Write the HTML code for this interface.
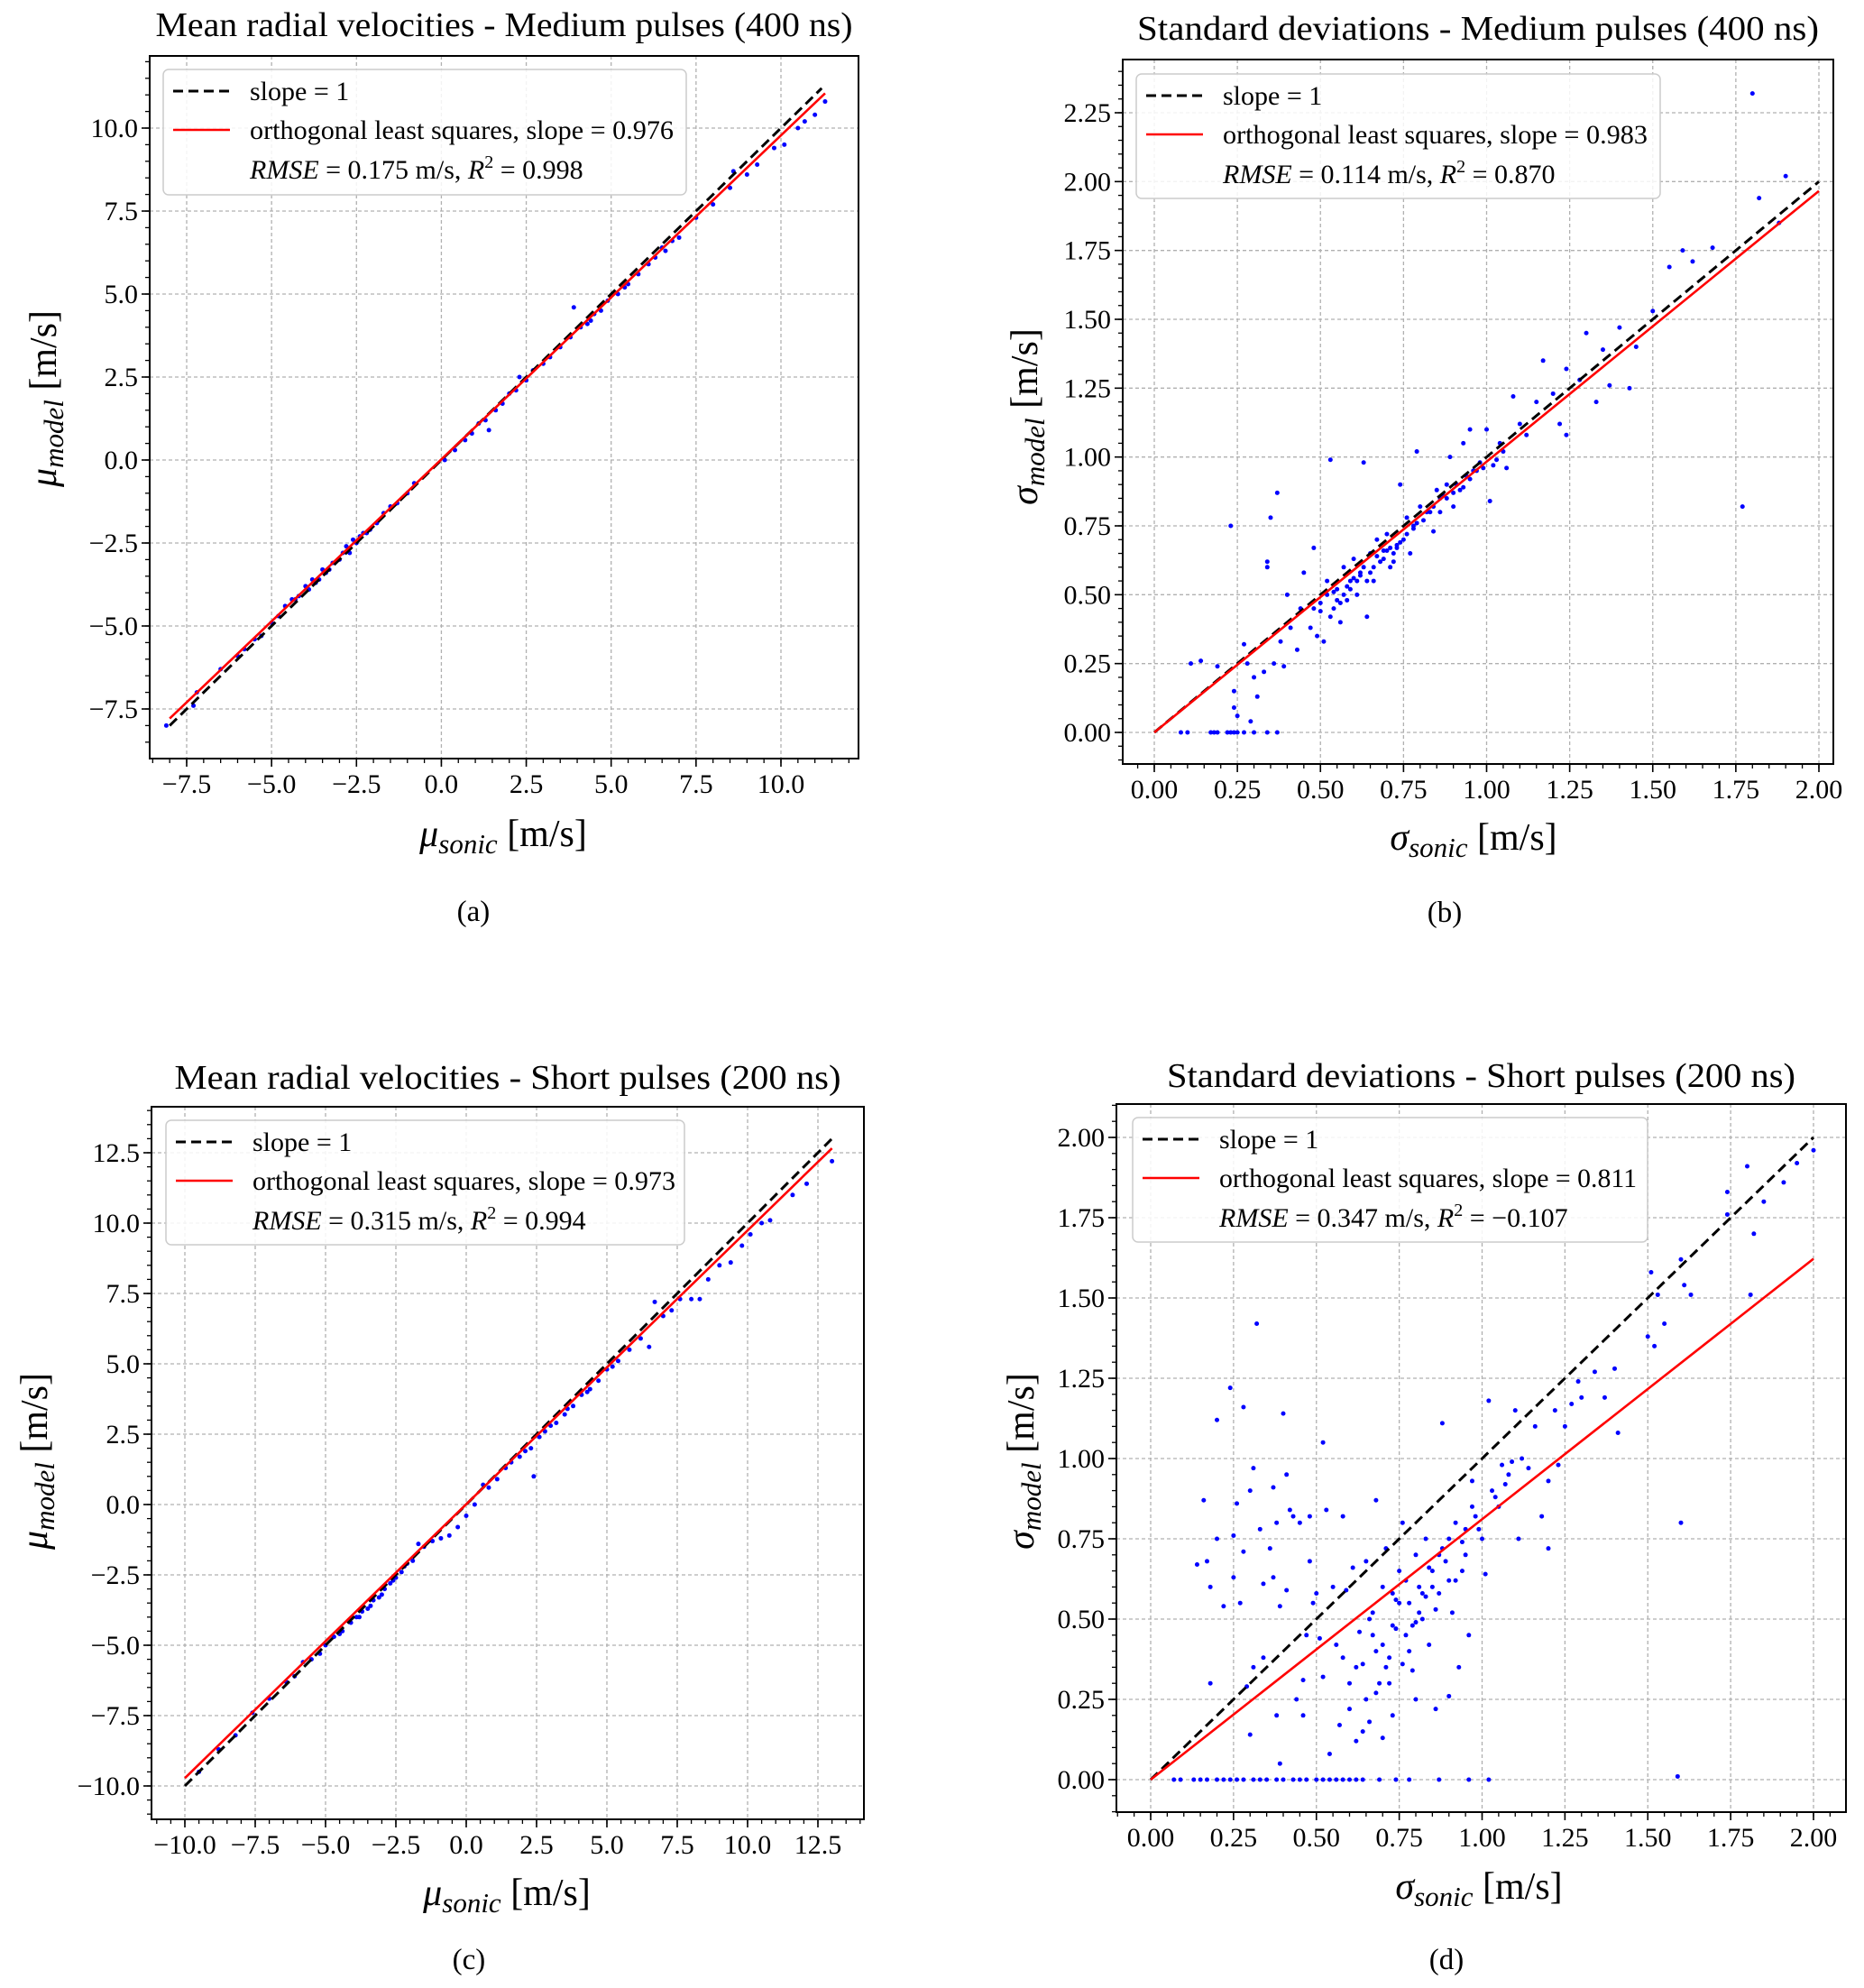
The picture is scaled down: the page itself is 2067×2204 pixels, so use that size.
<!DOCTYPE html>
<html><head><meta charset="utf-8"><style>
html,body{margin:0;padding:0;background:#fff}
svg{display:block}
text{font-family:"Liberation Serif","DejaVu Serif",serif}
</style></head><body>
<svg id="fig" width="2067" height="2204" viewBox="0 0 2067 2204" xmlns="http://www.w3.org/2000/svg" font-family="Liberation Serif, serif"></svg>
<script>
// ---- Data: panel (a) mean radial velocities, medium pulses ----
const aX=[-8.1,-7.3,-7.2,-6.5,-6.0,-5.8,-5.5,-5.3,-5.0,-4.8,-4.6,-4.4,-4.2,-4.0,-3.9,-3.8,-3.6,-3.5,-3.4,-3.2,-3.0,-2.9,-2.8,-2.7,-2.6,-2.5,-2.3,-2.1,-1.9,-1.7,-1.5,-1.3,-1.0,-0.8,0.1,0.4,0.7,0.9,1.1,1.3,1.4,1.6,1.8,2.0,2.2,2.3,2.5,2.7,3.0,3.2,3.5,3.8,3.9,4.1,4.4,4.7,4.9,5.2,5.5,5.8,6.1,6.5,6.8,7.0,7.5,8.0,8.5,8.6,9.0,9.3,9.8,10.1,10.5,10.7,11.0,11.3,-4.3,-3.7,-3.3,-2.4,-2.2,4.3,4.5,5.4,6.3,6.6];
const aY=[-8.0,-7.4,-7.0,-6.3,-5.9,-5.7,-5.4,-5.3,-4.9,-4.7,-4.4,-4.2,-4.1,-3.8,-3.9,-3.6,-3.6,-3.3,-3.4,-3.1,-3.0,-2.8,-2.6,-2.8,-2.4,-2.5,-2.2,-2.1,-1.9,-1.6,-1.4,-1.3,-1.0,-0.7,0.0,0.3,0.6,0.8,1.1,1.2,0.9,1.5,1.7,2.0,2.1,2.5,2.4,2.7,2.9,3.1,3.4,3.7,4.6,4.0,4.2,4.5,4.8,5.0,5.3,5.6,5.9,6.4,6.6,6.7,7.3,7.7,8.2,8.7,8.6,8.9,9.4,9.5,10.0,10.2,10.4,10.8,-4.2,-3.7,-3.3,-2.3,-2.2,4.1,4.4,5.2,6.1,6.3];
const aFit=[-8.0,11.3], aSlope=0.976, aIcpt=0.02, aDiag=[-8.0,11.2];
// ---- panel (b) standard deviations, medium pulses ----
const bX=[0.08,0.10,0.17,0.18,0.19,0.22,0.23,0.24,0.25,0.27,0.30,0.34,0.37,0.11,0.14,0.19,0.23,0.24,0.24,0.25,0.27,0.28,0.29,0.30,0.31,0.33,0.34,0.34,0.35,0.36,0.37,0.38,0.39,0.40,0.41,0.43,0.44,0.45,0.47,0.48,0.49,0.50,0.51,0.52,0.53,0.54,0.55,0.56,0.57,0.58,0.59,0.60,0.61,0.62,0.63,0.64,0.65,0.66,0.67,0.68,0.69,0.70,0.71,0.72,0.73,0.74,0.75,0.76,0.77,0.78,0.79,0.80,0.82,0.84,0.85,0.86,0.88,0.89,0.90,0.92,0.93,0.94,0.95,0.96,0.98,1.00,1.01,1.02,1.04,1.06,1.08,1.10,1.12,1.15,1.17,1.20,1.22,1.24,1.24,1.28,1.30,1.33,1.35,1.37,1.40,1.43,1.45,1.50,1.55,1.59,1.62,1.68,1.77,1.80,1.82,1.88,1.90,0.52,0.55,0.58,0.62,0.66,0.70,0.74,0.78,0.83,0.87,0.91,0.97,0.48,0.53,0.57,0.61,0.65,0.69,0.73,0.81,0.86,0.93,0.50,0.54,0.56,0.59,0.60,0.63,0.64,0.67,0.71,0.72,0.76,0.79,0.84,0.88,0.90,0.95,0.99,1.03,1.05];
const bY=[0,0,0,0,0,0,0,0,0,0,0,0,0,0.25,0.26,0.24,0.75,0.15,0.09,0.06,0.32,0.25,0.04,0.2,0.13,0.22,0.6,0.62,0.78,0.25,0.87,0.33,0.24,0.5,0.38,0.3,0.45,0.58,0.38,0.67,0.35,0.47,0.33,0.55,0.99,0.45,0.52,0.4,0.6,0.48,0.55,0.63,0.5,0.58,0.98,0.42,0.65,0.55,0.7,0.62,0.66,0.72,0.6,0.65,0.68,0.9,0.7,0.78,0.65,0.75,1.02,0.82,0.8,0.73,0.88,0.85,0.9,1.0,0.82,0.88,1.05,0.93,1.1,0.95,0.98,1.1,0.84,0.97,1.05,0.96,1.22,1.12,1.08,1.2,1.35,1.23,1.12,1.32,1.08,1.28,1.45,1.2,1.39,1.26,1.47,1.25,1.4,1.53,1.69,1.75,1.71,1.76,0.82,2.32,1.94,1.85,2.02,0.5,0.48,0.53,0.57,0.6,0.66,0.69,0.74,0.8,0.86,0.9,0.95,0.45,0.42,0.5,0.55,0.58,0.63,0.67,0.77,0.8,0.89,0.44,0.51,0.47,0.52,0.56,0.6,0.55,0.64,0.67,0.62,0.72,0.76,0.82,0.85,0.87,0.92,0.96,0.99,1.02];
const bFit=[0,2.0], bSlope=0.983, bIcpt=0.0, bDiag=[0,2.0];
// ---- panel (c) mean radial velocities, short pulses ----
const cX=[-9.5,-8.8,-8.2,-7.6,-7.0,-6.4,-6.1,-5.8,-5.5,-5.2,-5.0,-4.7,-4.4,-4.1,-3.9,-3.7,-3.5,-3.3,-3.1,-2.9,-2.7,-2.5,-2.3,-2.1,-1.9,-1.7,-1.5,-1.2,-0.9,-0.6,-0.3,0.0,0.3,0.6,0.8,1.1,1.4,1.6,1.9,2.1,2.3,2.4,2.6,2.8,3.2,3.5,3.8,4.1,4.4,4.7,5.0,5.4,5.8,6.2,6.5,6.7,7.0,7.3,7.6,8.0,8.3,8.6,9.0,9.4,9.8,10.1,10.5,10.8,11.6,12.1,13.0,-4.5,-3.8,-3.4,-3.0,-2.6,-2.2,3.0,3.6,4.3,5.2];
const cY=[-9.5,-8.7,-8.2,-7.4,-6.9,-6.3,-6.1,-5.6,-5.5,-5.3,-5.0,-4.7,-4.5,-4.2,-4.0,-3.8,-3.7,-3.4,-3.3,-3.0,-2.8,-2.6,-2.4,-2.1,-2.0,-1.4,-1.5,-1.3,-1.2,-1.1,-0.8,-0.4,0.0,0.7,0.6,0.9,1.3,1.5,1.7,1.9,2.0,1.0,2.4,2.6,2.9,3.2,3.5,3.9,4.1,4.4,4.8,5.1,5.5,5.9,5.6,7.2,6.7,6.9,7.3,7.3,7.3,8.0,8.5,8.6,9.2,9.6,10.0,10.1,11.0,11.4,12.2,-4.6,-4.0,-3.6,-3.2,-2.7,-2.2,2.8,3.4,4.0,4.9];
const cFit=[-10.0,13.0], cSlope=0.973, cIcpt=0.01, cDiag=[-10.0,13.0];
// ---- panel (d) standard deviations, short pulses ----
const dX=[0.07,0.09,0.13,0.15,0.17,0.2,0.22,0.24,0.26,0.28,0.31,0.33,0.35,0.38,0.4,0.43,0.45,0.47,0.5,0.52,0.54,0.56,0.58,0.6,0.62,0.64,0.69,0.74,0.78,0.87,0.96,1.02,0.14,0.16,0.17,0.18,0.18,0.2,0.2,0.22,0.24,0.25,0.25,0.26,0.27,0.28,0.28,0.29,0.3,0.3,0.31,0.31,0.32,0.33,0.34,0.34,0.36,0.37,0.37,0.38,0.38,0.39,0.39,0.4,0.41,0.41,0.42,0.43,0.44,0.45,0.46,0.46,0.47,0.48,0.48,0.49,0.5,0.51,0.52,0.52,0.53,0.54,0.55,0.56,0.57,0.58,0.58,0.59,0.6,0.61,0.62,0.63,0.64,0.65,0.65,0.66,0.67,0.68,0.68,0.69,0.7,0.7,0.71,0.72,0.73,0.73,0.74,0.75,0.76,0.77,0.78,0.79,0.8,0.8,0.81,0.82,0.83,0.84,0.85,0.86,0.87,0.88,0.89,0.9,0.9,0.91,0.92,0.93,0.94,0.95,0.96,0.97,0.98,1.0,1.01,1.02,1.03,1.05,1.06,1.08,1.1,1.11,1.12,1.14,1.16,1.18,1.2,1.2,1.22,1.23,1.25,1.27,1.29,1.3,1.34,1.37,1.4,1.41,1.5,1.51,1.52,1.53,1.55,1.59,1.6,1.6,1.61,1.63,1.74,1.74,1.8,1.81,1.82,1.85,1.91,1.95,2.0,0.62,0.66,0.7,0.72,0.75,0.77,0.79,0.82,0.84,0.86,0.88,0.92,0.95,0.99,0.68,0.71,0.74,0.78,0.81,0.85,0.6,0.64,0.67,0.73,0.76,0.8,0.83,0.87,0.9,0.94,0.97,1.04,1.07,1.09];
const dY=[0,0,0,0,0,0,0,0,0,0,0,0,0,0,0,0,0,0,0,0,0,0,0,0,0,0,0,0,0,0,0,0,0.67,0.87,0.68,0.3,0.6,1.12,0.75,0.54,1.22,0.76,0.63,0.86,0.55,1.16,0.71,0.29,0.9,0.14,0.97,0.35,1.42,0.78,0.61,0.38,0.72,0.91,0.63,0.2,0.8,0.54,0.05,1.14,0.95,0.59,0.84,0.82,0.25,0.8,0.31,0.2,0.45,0.68,0.82,0.55,0.58,0.44,1.05,0.32,0.84,0.08,0.6,0.42,0.17,0.38,0.82,0.59,0.3,0.66,0.12,0.46,0.36,0.68,0.25,0.18,0.52,0.87,0.4,0.3,0.13,0.6,0.72,0.38,0.48,0.2,0.56,0.65,0.8,0.45,0.55,0.34,0.7,0.25,0.6,0.5,0.75,0.42,0.65,0.22,0.58,1.11,0.68,0.75,0.26,0.52,0.8,0.35,0.65,0.78,0.45,0.93,0.82,0.75,0.64,1.18,0.9,0.85,0.98,0.95,1.15,0.75,1.0,0.97,1.1,0.82,0.93,0.72,1.15,0.98,1.1,1.17,1.24,1.19,1.27,1.19,1.28,1.08,1.38,1.58,1.35,1.51,1.42,0.01,1.62,0.8,1.54,1.51,1.83,1.76,1.91,1.51,1.7,1.8,1.86,1.92,1.96,0.35,0.5,0.42,0.3,0.55,0.62,0.48,0.58,0.66,0.53,0.72,0.62,0.7,0.78,0.27,0.35,0.47,0.4,0.52,0.6,0.22,0.15,0.45,0.58,0.36,0.49,0.57,0.7,0.62,0.74,0.85,0.88,0.92,0.99];
const dFit=[0,2.0], dSlope=0.811, dIcpt=0.0, dDiag=[0,2.0];
// tick values
const aTicks=[-7.5,-5.0,-2.5,0.0,2.5,5.0,7.5,10.0];
const bXTicks=[0,0.25,0.5,0.75,1.0,1.25,1.5,1.75,2.0];
const bYTicks=[0,0.25,0.5,0.75,1.0,1.25,1.5,1.75,2.0,2.25];
const cTicks=[-10.0,-7.5,-5.0,-2.5,0.0,2.5,5.0,7.5,10.0,12.5];
const dTicks=[0,0.25,0.5,0.75,1.0,1.25,1.5,1.75,2.0];
const legendSlopes=["0.976","0.983","0.973","0.811"];
const legendRmse=["0.175","0.114","0.315","0.347"];
const legendR2=["0.998","0.870","0.994","\u22120.107"];

const NS="http://www.w3.org/2000/svg";
const svg=document.getElementById('fig');
function mk(tag,attrs,parent){const e=document.createElementNS(NS,tag);if(tag==='text')e.setAttribute('font-family','Liberation Serif, serif');for(const k in attrs)e.setAttribute(k,attrs[k]);(parent||svg).appendChild(e);return e;}
function fmt(v,d){const s=Math.abs(v).toFixed(d);return (v<-1e-9?"\u2212":"")+s;}

function panel(P){
  const g=mk('g',{});
  
  
  const [L,T,R,B]=P.box;
  const sx=v=>P.xa[1]+(v-P.xa[0])*(P.xb[1]-P.xa[1])/(P.xb[0]-P.xa[0]);
  const sy=v=>P.ya[1]+(v-P.ya[0])*(P.yb[1]-P.ya[1])/(P.yb[0]-P.ya[0]);
  const ix=p=>P.xa[0]+(p-P.xa[1])*(P.xb[0]-P.xa[0])/(P.xb[1]-P.xa[1]);
  const iy=p=>P.ya[0]+(p-P.ya[1])*(P.yb[0]-P.ya[0])/(P.yb[1]-P.ya[1]);
  const grid=mk('g',{stroke:'#b0b0b0','stroke-width':1.3,'stroke-dasharray':'4,3'},g);
  
  
  P.xt.forEach(v=>{const l=mk('line',{x1:sx(v),x2:sx(v),y1:T,y2:B},grid);});
  P.yt.forEach(v=>{const l=mk('line',{x1:L,x2:R,y1:sy(v),y2:sy(v)},grid);});
  const mn=mk('g',{stroke:'#000','stroke-width':1.3},g);
  
  
  for(let k=Math.ceil(ix(L)/P.minor);k*P.minor<=ix(R);k++){const x=sx(k*P.minor);mk('line',{x1:x,x2:x,y1:B,y2:B+5},mn);}
  for(let k=Math.ceil(iy(B)/P.minor);k*P.minor<=iy(T);k++){const y=sy(k*P.minor);mk('line',{x1:L,x2:L-5,y1:y,y2:y},mn);}
  P.xt.forEach(v=>{const x=sx(v);mk('line',{x1:x,x2:x,y1:B,y2:B+9,stroke:'#000','stroke-width':1.6},g);
    const t=mk('text',{x:x,y:B+38,'text-anchor':'middle','font-size':30},g);t.textContent=fmt(v,P.dec);
    });
  P.yt.forEach(v=>{const y=sy(v);mk('line',{x1:L,x2:L-9,y1:y,y2:y,stroke:'#000','stroke-width':1.6},g);
    const t=mk('text',{x:L-13,y:y+10,'text-anchor':'end','font-size':30},g);t.textContent=fmt(v,P.dec);
    });
  const pts=mk('g',{fill:'#0000ff'},g);
  
  
  P.X.forEach((v,i)=>{const c=mk('circle',{cx:sx(v),cy:sy(P.Y[i]),r:2.5},pts);
    });
  const dl=mk('line',{x1:sx(P.diag[0]),y1:sy(P.diag[0]),x2:sx(P.diag[1]),y2:sy(P.diag[1]),stroke:'#000','stroke-width':3,'stroke-dasharray':'11,6'},g);
  
  
  const rl=mk('line',{x1:sx(P.fit[0]),y1:sy(P.slope*P.fit[0]+P.icpt),x2:sx(P.fit[1]),y2:sy(P.slope*P.fit[1]+P.icpt),stroke:'#ff0000','stroke-width':2.6},g);
  
  
  const fr=mk('rect',{x:L,y:T,width:R-L,height:B-T,fill:'none',stroke:'#000','stroke-width':2},g);
  
  
  const [lx1,ly1,lx2,ly2]=P.leg;
  const lg=mk('g',{},g);
  
  
  mk('rect',{x:lx1,y:ly1,width:lx2-lx1,height:ly2-ly1,rx:6,fill:'#fff','fill-opacity':0.85,stroke:'#cccccc','stroke-width':1.5},lg);
  const sX=lx1+11, tX=lx1+96;
  mk('line',{x1:sX,x2:sX+63,y1:ly1+24,y2:ly1+24,stroke:'#000','stroke-width':3,'stroke-dasharray':'11,6'},lg);
  mk('line',{x1:sX,x2:sX+63,y1:ly1+67,y2:ly1+67,stroke:'#ff0000','stroke-width':2.6},lg);
  const t1=mk('text',{x:tX,y:ly1+34,'font-size':30},lg);t1.textContent='slope = 1';
  
  const t2=mk('text',{x:tX,y:ly1+77,'font-size':30,textLength:P.l2w,lengthAdjust:'spacingAndGlyphs'},lg);t2.textContent='orthogonal least squares, slope = '+legendSlopes[P.k];
  
  const t3=mk('text',{x:tX,y:ly1+121,'font-size':30},lg);
  t3.innerHTML='<tspan font-style="italic">RMSE</tspan> = '+legendRmse[P.k]+' m/s, <tspan font-style="italic">R</tspan><tspan font-size="20" dy="-12">2</tspan><tspan dy="12"> = '+legendR2[P.k]+'</tspan>';
  
  const tt=mk('text',{x:(L+R)/2,y:P.ty,'text-anchor':'middle','font-size':38,textLength:P.tw,lengthAdjust:'spacingAndGlyphs'},g);tt.textContent=P.title;
  
  const xl=mk('text',{x:P.xl[0],y:P.xl[1],'text-anchor':'middle','font-size':42},g);
  xl.innerHTML='<tspan font-style="italic">'+P.sym+'</tspan><tspan font-size="31" font-style="italic" dy="8">sonic</tspan><tspan dy="-8"> [m/s]</tspan>';
  
  const yl=mk('text',{x:0,y:0,'text-anchor':'middle','font-size':42,transform:'translate('+P.yl[0]+','+P.yl[1]+') rotate(-90)'},g);
  yl.innerHTML='<tspan font-style="italic">'+P.sym+'</tspan><tspan font-size="31" font-style="italic" dy="8">model</tspan><tspan dy="-8"> [m/s]</tspan>';
  
  const cap=mk('text',{x:P.cap[0],y:P.cap[1],'text-anchor':'middle','font-size':33},g);cap.textContent='('+P.id+')';
  
}

panel({id:'a',k:0,box:[166,62,952,841],xa:[-7.5,207],xb:[10,866],ya:[10,142],yb:[-7.5,786],xt:aTicks,yt:aTicks,minor:0.5,dec:1,
  X:aX,Y:aY,fit:aFit,slope:aSlope,icpt:aIcpt,diag:aDiag,leg:[181,77,761,216],ty:40,tw:773,l2w:470,title:'Mean radial velocities - Medium pulses (400 ns)',
  sym:'\u03bc',xl:[558,938],yl:[62,442],cap:[525,1021]});
panel({id:'b',k:1,box:[1245,66,2033,847],xa:[0,1280],xb:[2,2017],ya:[0,812],yb:[2.25,125],xt:bXTicks,yt:bYTicks,minor:0.05,dec:2,
  X:bX,Y:bY,fit:bFit,slope:bSlope,icpt:bIcpt,diag:bDiag,leg:[1260,82,1841,220],ty:44,tw:756,l2w:471,title:'Standard deviations - Medium pulses (400 ns)',
  sym:'\u03c3',xl:[1634,942],yl:[1150,462],cap:[1602,1022]});
panel({id:'c',k:2,box:[168,1227,958,2017],xa:[-10,205],xb:[12.5,907],ya:[-10,1980],yb:[12.5,1278],xt:cTicks,yt:cTicks,minor:0.5,dec:1,
  X:cX,Y:cY,fit:cFit,slope:cSlope,icpt:cIcpt,diag:cDiag,leg:[184,1242,759,1380],ty:1207,tw:739,l2w:469,title:'Mean radial velocities - Short pulses (200 ns)',
  sym:'\u03bc',xl:[562,2112],yl:[52,1620],cap:[520,2183]});
panel({id:'d',k:3,box:[1238,1224,2047,2009],xa:[0,1276],xb:[2,2011],ya:[0,1973],yb:[2,1261],xt:dTicks,yt:dTicks,minor:0.05,dec:2,
  X:dX,Y:dY,fit:dFit,slope:dSlope,icpt:dIcpt,diag:dDiag,leg:[1256,1239,1827,1377],ty:1205,tw:697,l2w:463,title:'Standard deviations - Short pulses (200 ns)',
  sym:'\u03c3',xl:[1640,2105],yl:[1146,1620],cap:[1604,2183]});
</script>
</body></html>
